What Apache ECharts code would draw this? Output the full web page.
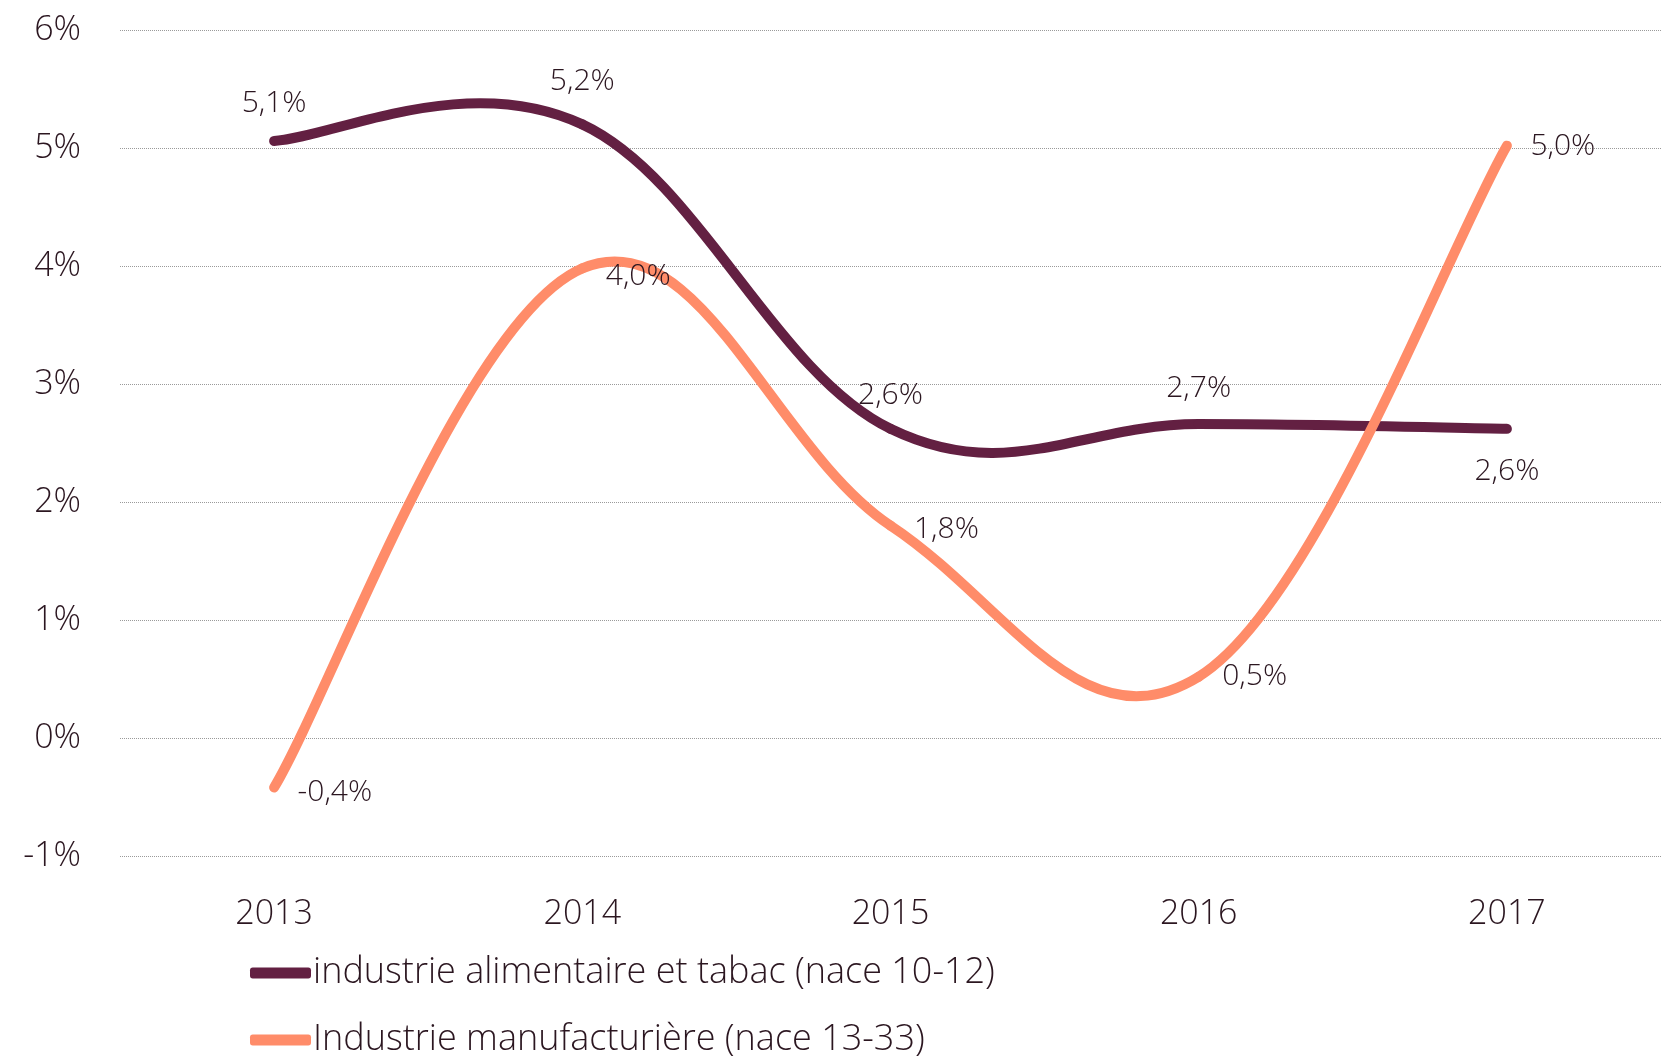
<!DOCTYPE html>
<html><head><meta charset="utf-8">
<script src="https://cdn.jsdelivr.net/npm/echarts@6/dist/echarts.min.js"></script>
<style>html,body{margin:0;padding:0;background:#fff}#c{width:1661px;height:1059px}</style>
</head><body><div id="c"></div>
<script>
// ---- data ----
const years = ['2013','2014','2015','2016','2017'];
const seriesNames = ['industrie alimentaire et tabac (nace 10-12)', 'Industrie manufacturière (nace 13-33)'];
const food = [5.06, 5.20, 2.62, 2.66, 2.62];
const manuf = [-0.42, 3.98, 1.80, 0.52, 5.02];
const yTicks = {min: -1, max: 6, interval: 1};

// ---- label placement (style) ----
const foodLabelOffsetY = [-37, -43, -33, -36, 43];
const manufLabelOffsetY = [5, 8, 4, 0, 1];

const dark = '#632042', orange = '#FF8C69', txt = '#2b1620';
const font = 'Open Sans';
const fmt = v => v.toFixed(1).replace('.', ',') + '%';
const K = 0.19; // smoothing tension (Excel-like curve)

function curveSeries(name, values, color) {
  return {
    name: name, type: 'custom', z: 2,
    itemStyle: {color: color},
    data: values.map((v, i) => [i, v]),
    encode: {x: 0, y: 1},
    renderItem: function (params, api) {
      const i = params.dataIndex, n = values.length;
      if (i >= n - 1) return null;
      const c = j => Math.max(0, Math.min(n - 1, j));
      const P = j => api.coord([c(j), values[c(j)]]);
      const p0 = P(i - 1), p1 = P(i), p2 = P(i + 1), p3 = P(i + 2);
      return {
        type: 'bezierCurve',
        shape: {
          x1: p1[0], y1: p1[1], x2: p2[0], y2: p2[1],
          cpx1: p1[0] + (p2[0] - p0[0]) * K, cpy1: p1[1] + (p2[1] - p0[1]) * K,
          cpx2: p2[0] - (p3[0] - p1[0]) * K, cpy2: p2[1] - (p3[1] - p1[1]) * K
        },
        style: {stroke: color, lineWidth: 10, fill: null, lineCap: 'round'}
      };
    }
  };
}

function labelSeries(id, values, pos, dist, offs) {
  return {
    name: id, type: 'line', z: 5, symbol: 'circle', symbolSize: 1, showSymbol: true,
    lineStyle: {opacity: 0, width: 0}, itemStyle: {color: 'rgba(0,0,0,0)', borderWidth: 0},
    silent: true,
    data: values.map((v, i) => ({value: v, label: {offset: [0, offs[i]]}})),
    label: {show: true, position: pos, distance: dist, formatter: p => fmt(p.value),
            fontSize: 30, color: txt, fontFamily: font, fontWeight: 300}
  };
}

const chart = echarts.init(document.getElementById('c'));
chart.setOption({
  animation: false,
  textStyle: {fontFamily: font},
  grid: {left: 120, right: -6, top: 30, bottom: 203},
  legend: {
    orient: 'vertical', left: 250, top: 955, padding: 0, itemWidth: 61, itemHeight: 11, itemGap: 31,
    icon: 'roundRect',
    textStyle: {fontFamily: font, fontSize: 36, fontWeight: 300, lineHeight: 36, color: txt, padding: [0,0,0,-3]},
    data: seriesNames
  },
  xAxis: {
    type: 'category', data: years, boundaryGap: true,
    axisLine: {show: false}, axisTick: {show: false},
    axisLabel: {fontSize: 34, color: txt, margin: 41, fontFamily: font, fontWeight: 300}
  },
  yAxis: {
    type: 'value', min: yTicks.min, max: yTicks.max, interval: yTicks.interval,
    axisLine: {show: false}, axisTick: {show: false},
    axisLabel: {fontSize: 34, color: txt, margin: 39, fontFamily: font, fontWeight: 300, formatter: v => v + '%'},
    splitLine: {lineStyle: {type: [1, 1], color: '#9a9a9a', width: 1}}
  },
  series: [
    curveSeries(seriesNames[0], food, dark),
    curveSeries(seriesNames[1], manuf, orange),
    labelSeries('lbl-food', food, 'inside', 0, foodLabelOffsetY),
    labelSeries('lbl-manuf', manuf, 'right', 23, manufLabelOffsetY)
  ]
});
</script></body></html>
